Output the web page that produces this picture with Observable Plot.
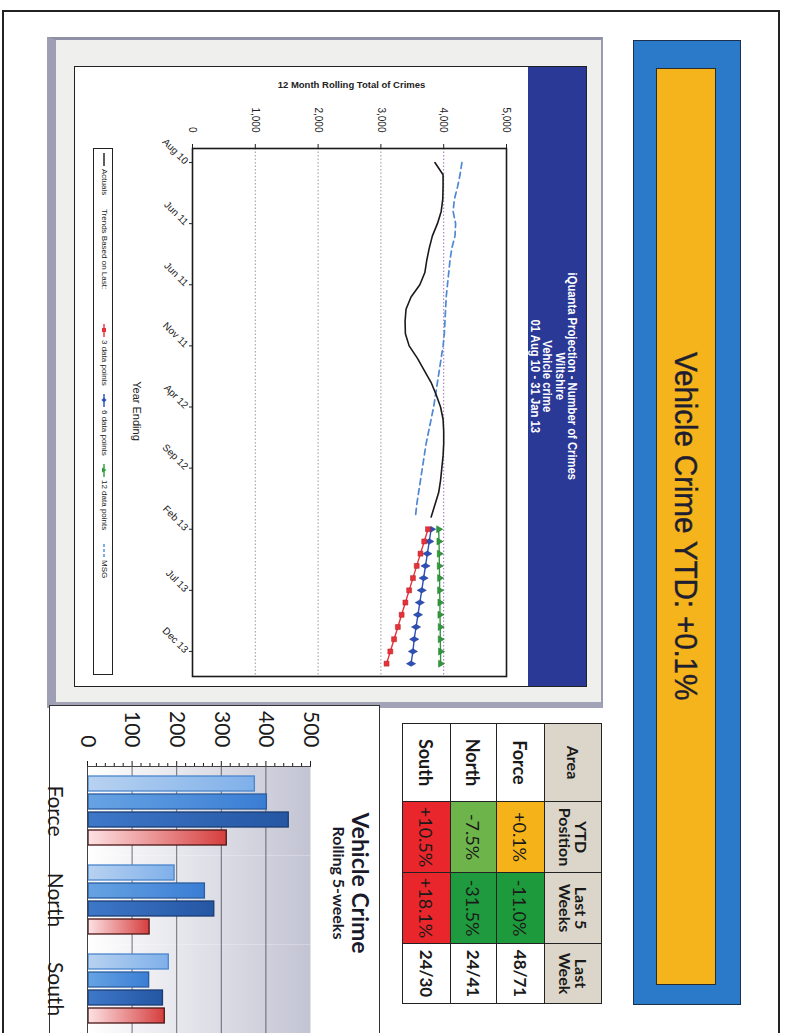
<!DOCTYPE html>
<html><head><meta charset="utf-8">
<script src="https://cdn.jsdelivr.net/npm/d3@7"></script>
<script src="https://cdn.jsdelivr.net/npm/@observablehq/plot@0.6"></script>
<style>
html,body{margin:0;padding:0;background:#fff;overflow:hidden;width:789px;height:1033px}
#page{position:absolute;left:0;top:0;width:1033px;height:789px;transform-origin:0 0;transform:translate(789px,0) rotate(90deg);background:#fff;font-family:"Liberation Sans",Arial,sans-serif;overflow:hidden}
.abs{position:absolute;box-sizing:border-box}
#tbl{border-collapse:collapse;font-family:Lato,"Open Sans",sans-serif;color:#1a1a1a;table-layout:fixed}
#tbl td{border:1.5px solid #222;text-align:center;vertical-align:middle;padding:0}
#tbl .hd{background:#dbd6c9;font-weight:700;font-size:16px;line-height:16px}
#tbl .ar{font-weight:700;font-size:18px;background:#fff}
#tbl .v{font-size:18px}
#tbl .lw{font-weight:700;font-size:17px;background:#fff}
.lg{position:absolute;top:3px;font-size:8px;color:#222;white-space:nowrap;display:flex;align-items:center;gap:3px}
</style></head><body>
<div id="page">
  <div class="abs" style="left:10px;top:9px;width:1040px;height:778px;border:2px solid #222"></div>
  <div class="abs" style="left:40px;top:48px;width:965px;height:108px;background:#2a7ac9;border:1.5px solid #1d2f4a"></div>
  <div class="abs" style="left:68px;top:73px;width:917px;height:60px;background:#f5b41c;border:1.5px solid #2b2b2b;display:flex;align-items:center;justify-content:center"><span id="banner" style="display:inline-block;font-family:'Liberation Sans Narrow','Liberation Sans',sans-serif;font-size:32px;color:#1e1e30;transform:scaleX(0.93);-webkit-text-stroke:0.4px #1e1e30;letter-spacing:-0.2px"></span></div>

  <div class="abs" style="left:37px;top:186px;width:671px;height:556px;background:#efefed;border-left:3px solid #8f90a6;border-top:2px solid #9a9bb0;border-right:6px solid #a2a3b6;border-bottom:9px solid #9e9fb4"></div>
  <div class="abs" style="left:66px;top:202px;width:621px;height:513px;background:#fff;border:1.5px solid #222"></div>
  <div class="abs" style="left:67px;top:203px;width:619px;height:58px;background:#2a3896;padding-top:8px;text-align:center"><div id="hdr" style="display:inline-block;color:#fff;font-family:'Liberation Sans Narrow','Liberation Sans',sans-serif;font-weight:700;font-size:12.5px;line-height:12.3px;text-align:center;transform:scaleX(0.9)"></div></div>
  <div class="abs" id="line" style="left:66px;top:261px"></div>
  <div class="abs" id="ylab" style="left:84px;top:439px;width:0;height:0"></div>
  <div class="abs" id="xlab" style="left:311px;top:646px;width:200px;text-align:center;font-size:11px;color:#222"></div>
  <div class="abs" id="legend" style="left:148px;top:676px;width:527px;height:20px;border:1.5px solid #222;background:#fff"></div>

  <table class="abs" id="tbl" style="left:723px;top:187px;width:280px"></table>

  <div class="abs" style="left:705px;top:409px;width:340px;height:331px;border:1.5px solid #333;background:#fff"></div>
  <div class="abs" id="bar" style="left:706px;top:410px"></div>
  <div class="abs" id="btitle" style="left:783px;top:416px;width:200px;text-align:center;font-family:Lato,'Open Sans',sans-serif;font-weight:700;color:#1a1a2a"></div>
</div>
<script>
// ---------- data ----------
const pageTitle = "Vehicle Crime YTD: +0.1%";
const headerLines = ["iQuanta Projection - Number of Crimes", "Wiltshire", "Vehicle crime", "01 Aug 10 - 31 Jan 13"];
const yAxisTitle = "12 Month Rolling Total of Crimes";
const xAxisTitle = "Year Ending";

// months counted from Aug 10 (= 0)
const xTickMonths = [0, 5, 10, 15, 20, 25, 30, 35, 40];
const xTickLabels = ["Aug 10", "Jun 11", "Jun 11", "Nov 11", "Apr 12", "Sep 12", "Feb 13", "Jul 13", "Dec 13"];
const yTicks = [0, 1000, 2000, 3000, 4000, 5000];
const gridGray = [1000, 2000, 3000];
const gridPurple = [4000];

const actualStart = 0;
const actualValues = [3860, 3990, 3990, 3985, 3960, 3900, 3820, 3770, 3730, 3700, 3620, 3480, 3400, 3385, 3390,
  3450, 3580, 3690, 3800, 3880, 3950, 3990, 4000, 4000, 3990, 3970, 3950, 3920, 3860, 3800];
const msgValues = [4290, 4260, 4220, 4170, 4150, 4190, 4180, 4130, 4100, 4080, 4060, 4040, 4030, 4020, 4010,
  3990, 3960, 3930, 3900, 3870, 3840, 3800, 3760, 3720, 3690, 3660, 3630, 3600, 3570, 3550];
const trendStart = 30;
const trend3Values = [3750, 3690, 3630, 3570, 3510, 3450, 3390, 3330, 3270, 3210, 3150, 3090];
const trend6Values = [3800, 3770, 3740, 3710, 3680, 3650, 3620, 3590, 3560, 3530, 3510, 3480];
const trend12Values = [3920, 3925, 3930, 3930, 3935, 3935, 3940, 3940, 3945, 3945, 3950, 3950];

const tableHeader = ["Area", "YTD<br>Position", "Last 5<br>Weeks", "Last<br>Week"];
const tableAreas = ["Force", "North", "South"];
const tableYTD = ["+0.1%", "-7.5%", "+10.5%"];
const tableYTDColors = ["#f6b319", "#6db54a", "#e8262b"];
const tableLast5 = ["-11.0%", "-31.5%", "+18.1%"];
const tableLast5Colors = ["#1d9a3c", "#1f9a3e", "#e8262b"];
const tableLastWeek = ["48/71", "24/41", "24/30"];

const barTitle = "Vehicle Crime";
const barSubtitle = "Rolling 5-weeks";
const barAreas = ["Force", "North", "South"];
const barSeries = ["Series A", "Series B", "Series C", "Series D"];
const seriesAValues = [373, 193, 180];
const seriesBValues = [400, 261, 136];
const seriesCValues = [449, 282, 167];
const seriesDValues = [310, 137, 171];
const barMajorTicks = [0, 100, 200, 300, 400, 500];
const barMinorTicks = [20, 40, 60, 80, 120, 140, 160, 180, 220, 240, 260, 280, 320, 340, 360, 380, 420, 440, 460, 480];
const barGrid = [100, 200, 300, 400];

// ---------- text blocks ----------
document.getElementById("banner").textContent = pageTitle;
document.getElementById("hdr").innerHTML = headerLines.map(l => `<div>${l}</div>`).join("");
document.getElementById("ylab").innerHTML = `<div style="position:absolute;left:-120px;top:-7px;width:240px;text-align:center;transform:rotate(-90deg);font-size:9.5px;font-weight:700;color:#222;white-space:nowrap">${yAxisTitle}</div>`;
document.getElementById("xlab").textContent = xAxisTitle;
document.getElementById("btitle").innerHTML = `<div style="font-size:23px;line-height:25px">${barTitle}</div><div style="font-size:16px;line-height:18px">${barSubtitle}</div>`;

// legend
const sw = (color, dash, marker) => {
  let m = "";
  if (marker === "square") m = `<rect x="4" y="2" width="4" height="4" fill="${color}"/>`;
  if (marker === "diamond") m = `<path d="M6 1.5L8.5 4L6 6.5L3.5 4Z" fill="${color}"/>`;
  if (marker === "triangle") m = `<path d="M6 1.5L8.5 6L3.5 6Z" fill="${color}"/>`;
  return `<svg width="13" height="8"><line x1="0" y1="4" x2="13" y2="4" stroke="${color}" stroke-width="1.4" ${dash ? `stroke-dasharray="${dash}"` : ""}/>${m}</svg>`;
};
const legendHTML = [
  {left: 4, html: sw("#1a1a1a") + "<span>Actuals</span>"},
  {left: 60, html: "<span>Trends Based on Last:</span>"},
  {left: 175, html: sw("#e8323a", null, "square") + "<span>3 data points</span>"},
  {left: 245, html: sw("#2c4fb8", null, "diamond") + "<span>6 data points</span>"},
  {left: 315, html: sw("#2f9a3a", null, "triangle") + "<span>12 data points</span>"},
  {left: 395, html: sw("#4f88d4", "3,2") + "<span>MSG</span>"}
];
document.getElementById("legend").innerHTML = legendHTML.map(d => `<div class="lg" style="left:${d.left}px">${d.html}</div>`).join("");

// table
const tbl = document.getElementById("tbl");
let th = `<colgroup><col style="width:78px"><col style="width:71px"><col style="width:71px"><col style="width:60px"></colgroup>`;
th += `<tr style="height:57px">${tableHeader.map(h => `<td class="hd">${h}</td>`).join("")}</tr>`;
tableAreas.forEach((a, i) => {
  th += `<tr style="height:${i === 1 ? 46 : 48}px"><td class="ar">${a}</td>` +
    `<td class="v" style="background:${tableYTDColors[i]}">${tableYTD[i]}</td>` +
    `<td class="v" style="background:${tableLast5Colors[i]}">${tableLast5[i]}</td>` +
    `<td class="lw">${tableLastWeek[i]}</td></tr>`;
});
tbl.innerHTML = th;

// ---------- line chart ----------
const actualData = actualValues.map((v, i) => ({month: actualStart + i, value: v}));
const msgData = msgValues.map((v, i) => ({month: actualStart + i, value: v}));
const t3 = trend3Values.map((v, i) => ({month: trendStart + i, value: v}));
const t6 = trend6Values.map((v, i) => ({month: trendStart + i, value: v}));
const t12 = trend12Values.map((v, i) => ({month: trendStart + i, value: v}));

const lineChart = Plot.plot({
  width: 621, height: 454,
  marginLeft: 82, marginRight: 11, marginTop: 21, marginBottom: 119,
  x: {domain: [-1.15, 42.05]},
  y: {domain: [0, 5000]},
  style: {fontFamily: "'Liberation Sans', Arial, sans-serif", fontSize: "10px", color: "#222", background: "transparent", overflow: "visible"},
  marks: [
    Plot.ruleY(gridGray, {stroke: "#9a9a9a", strokeDasharray: "1.5,2"}),
    Plot.ruleY(gridPurple, {stroke: "#a070c0", strokeDasharray: "1.5,2"}),
    Plot.line(msgData, {x: "month", y: "value", stroke: "#4f88d4", strokeWidth: 1.7, strokeDasharray: "6,4"}),
    Plot.line(actualData, {x: "month", y: "value", stroke: "#1a1a1a", strokeWidth: 1.6}),
    Plot.line(t12, {x: "month", y: "value", stroke: "#2f9a3a", strokeWidth: 1.4}),
    Plot.dot(t12, {x: "month", y: "value", symbol: "triangle", r: 2.6, fill: "#2f9a3a", stroke: "#1e6e28", strokeWidth: 0.5}),
    Plot.line(t6, {x: "month", y: "value", stroke: "#2c4fb8", strokeWidth: 1.4}),
    Plot.dot(t6, {x: "month", y: "value", symbol: "diamond", r: 2.8, fill: "#2c4fb8", stroke: "#1c3488", strokeWidth: 0.5}),
    Plot.line(t3, {x: "month", y: "value", stroke: "#e8323a", strokeWidth: 1.4}),
    Plot.dot(t3, {x: "month", y: "value", symbol: "square", r: 2.8, fill: "#e8323a", stroke: "#b01c22", strokeWidth: 0.5}),
    Plot.frame({stroke: "#1a1a1a", strokeWidth: 1.6}),
    Plot.axisY({ticks: yTicks, tickFormat: d3.format(","), tickSize: 4, tickPadding: 12, label: null, fontSize: 10}),
    Plot.axisX({ticks: xTickMonths, tickFormat: d => xTickLabels[xTickMonths.indexOf(d)], tickRotate: -45, tickSize: 4, tickPadding: 2, label: null, fontSize: 10})
  ]
});
document.getElementById("line").appendChild(lineChart);

// ---------- bar chart ----------
const seriesValues = [seriesAValues, seriesBValues, seriesCValues, seriesDValues];
const barRows = [];
barSeries.forEach((s, si) => barAreas.forEach((a, ai) => barRows.push({area: a, series: s, value: seriesValues[si][ai]})));
const barFills = ["url(#gA)", "url(#gB)", "url(#gC)", "url(#gD)"];
const barStrokes = ["#4a86cc", "#2c5e9e", "#1b3d73", "#4a1515"];

const barChart = Plot.plot({
  width: 327, height: 345,
  marginLeft: 59, marginRight: 0, marginTop: 68, marginBottom: 54,
  fx: {domain: barAreas, padding: 0},
  x: {domain: barSeries, paddingInner: 0.17, paddingOuter: 0.55, axis: null},
  y: {domain: [0, 500]},
  style: {fontFamily: "Lato, 'Open Sans', sans-serif", color: "#1a1a1a", background: "transparent", overflow: "visible"},
  marks: [
    Plot.frame({fill: "url(#bgG)", stroke: "none"}),
    Plot.ruleY(barGrid, {stroke: "#4a4a55", strokeWidth: 0.8}),
    ...barSeries.map((s, si) => Plot.barY(barRows.filter(d => d.series === s), {fx: "area", x: "series", y: "value", fill: barFills[si], stroke: barStrokes[si], strokeWidth: 1.3})),
    Plot.ruleY([0], {stroke: "#444", strokeWidth: 1}),
    Plot.frame({anchor: "left", facetAnchor: "left", stroke: "#444"}),
    Plot.axisY({ticks: barMajorTicks, tickSize: 5, tickPadding: 14, label: null, fontSize: 21}),
    Plot.axisY({ticks: barMinorTicks, tickSize: 3, tickFormat: () => "", label: null}),
    Plot.axisFx({anchor: "bottom", tickSize: 0, tickPadding: 25, label: null, fontSize: 21})
  ]
});
const defs = d3.select(barChart).insert("defs", ":first-child");
const grad = (id, c0, c1) => {
  const g = defs.append("linearGradient").attr("id", id).attr("x1", 0).attr("y1", 1).attr("x2", 0).attr("y2", 0);
  g.append("stop").attr("offset", "0%").attr("stop-color", c0);
  g.append("stop").attr("offset", "100%").attr("stop-color", c1);
};
grad("gA", "#b8d2f0", "#7fb0ea");
grad("gB", "#67a3e3", "#3a7dd4");
grad("gC", "#3e78c8", "#2456a3");
grad("gD", "#fde2e4", "#d63e3e");
grad("bgG", "#ffffff", "#c3c4d3");
document.getElementById("bar").appendChild(barChart);
</script>
</body></html>
